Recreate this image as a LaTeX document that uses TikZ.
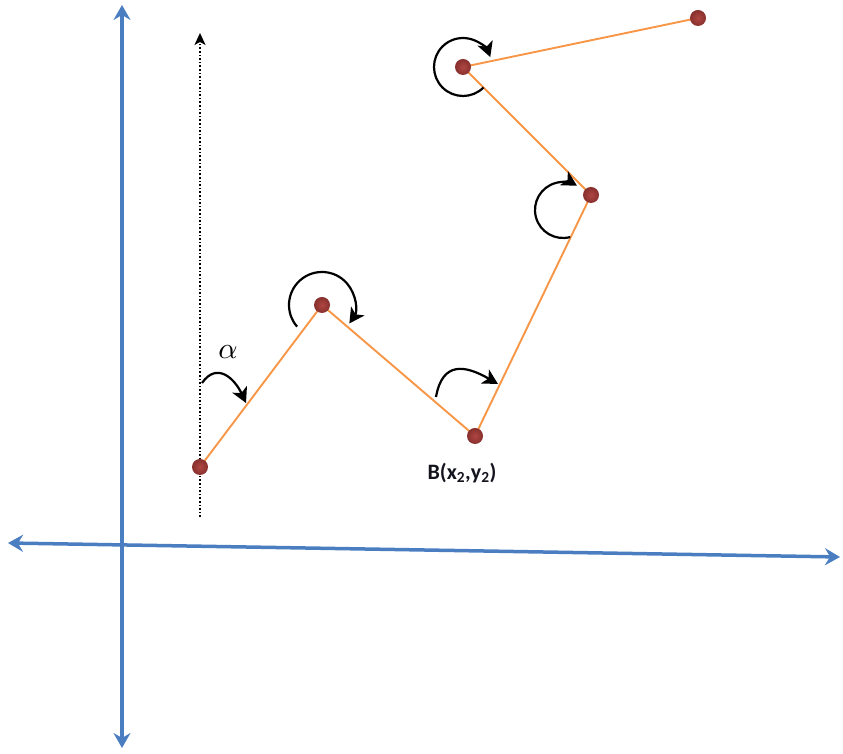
\documentclass[tikz,border=0pt]{standalone}
\usepackage{fontspec}
\usepackage{graphicx}
\setmainfont{Carlito}
\usetikzlibrary{arrows.meta}
\definecolor{axisblue}{RGB}{74,126,193}
\definecolor{segorange}{RGB}{247,150,70}
\definecolor{dotred}{RGB}{135,48,46}
\definecolor{dotlight}{RGB}{175,70,66}
\definecolor{labelblack}{RGB}{20,20,30}
\pgfdeclarelayer{bg}
\pgfsetlayers{bg,main}
\begin{document}
\begin{tikzpicture}[x=1pt,y=1pt,
  axis/.style={line width=3.5pt, draw=axisblue, {Stealth[length=15pt,width=17pt,inset=5pt]}-{Stealth[length=15pt,width=17pt,inset=5pt]}},
  seg/.style={line width=1.9pt, draw=segorange},
  dot/.style={circle, inner sep=0pt, minimum size=16pt, inner color=dotlight, outer color=dotred},
  rot/.style={line width=2.2pt, draw=black, -{Stealth[length=15pt,width=16pt,inset=4pt]}},
  vert/.style={line width=1.6pt, dotted, -{Stealth[length=12pt,width=11pt,inset=3pt]}}
]
\useasboundingbox (0,0) rectangle (843,754);

% axes
\coordinate (yt) at (122,749);
\coordinate (yb) at (122,6);
\coordinate (xl) at (8,211);
\coordinate (xr) at (840,197);
\draw[axis] (yb) -- (yt);
\draw[axis] (xl) -- (xr);

% points
\node[dot] (p1) at (200,287) {};
\node[dot] (p2) at (322,449) {};
\node[dot] (p3) at (475,318) {};
\node[dot] (p4) at (591,559) {};
\node[dot] (p5) at (463,687) {};
\node[dot] (p6) at (698,736) {};

\begin{pgfonlayer}{bg}
  \coordinate (dbot) at (200,237);
  \coordinate (dtop) at (200,721);
  \draw[vert] (dbot) -- (dtop);
  \draw[seg] (p1.center) -- (p2.center) -- (p3.center) -- (p4.center) -- (p5.center) -- (p6.center);
\end{pgfonlayer}

% rotation arrows
\coordinate (a1s) at (202,371);
\coordinate (a1e) at (246,351);
\draw[rot] (a1s) to[out=55,in=115,looseness=1.4] (a1e);

\draw[rot] ([shift={(221:33)}]p2.center) arc[start angle=221, end angle=-34, radius=33];

\coordinate (a3s) at (436,357);
\coordinate (a3e) at (498,370);
\draw[rot] (a3s) to[out=80,in=150,looseness=1.5] (a3e);

\coordinate (c4) at (563,544);
\draw[rot] ([shift={(285:28)}]c4) arc[start angle=285, end angle=60, radius=28];

\draw[rot] ([shift={(315:29)}]p5.center) arc[start angle=315, end angle=20, radius=29];

% labels
\node[text=black] (alpha) at (228,402) {\scalebox{3}{$\alpha$}};
\node[text=labelblack, font=\bfseries\fontsize{22}{22}\selectfont] (blabel) at (462,281) {B(x\textsubscript{2},y\textsubscript{2})};
\end{tikzpicture}
\end{document}
